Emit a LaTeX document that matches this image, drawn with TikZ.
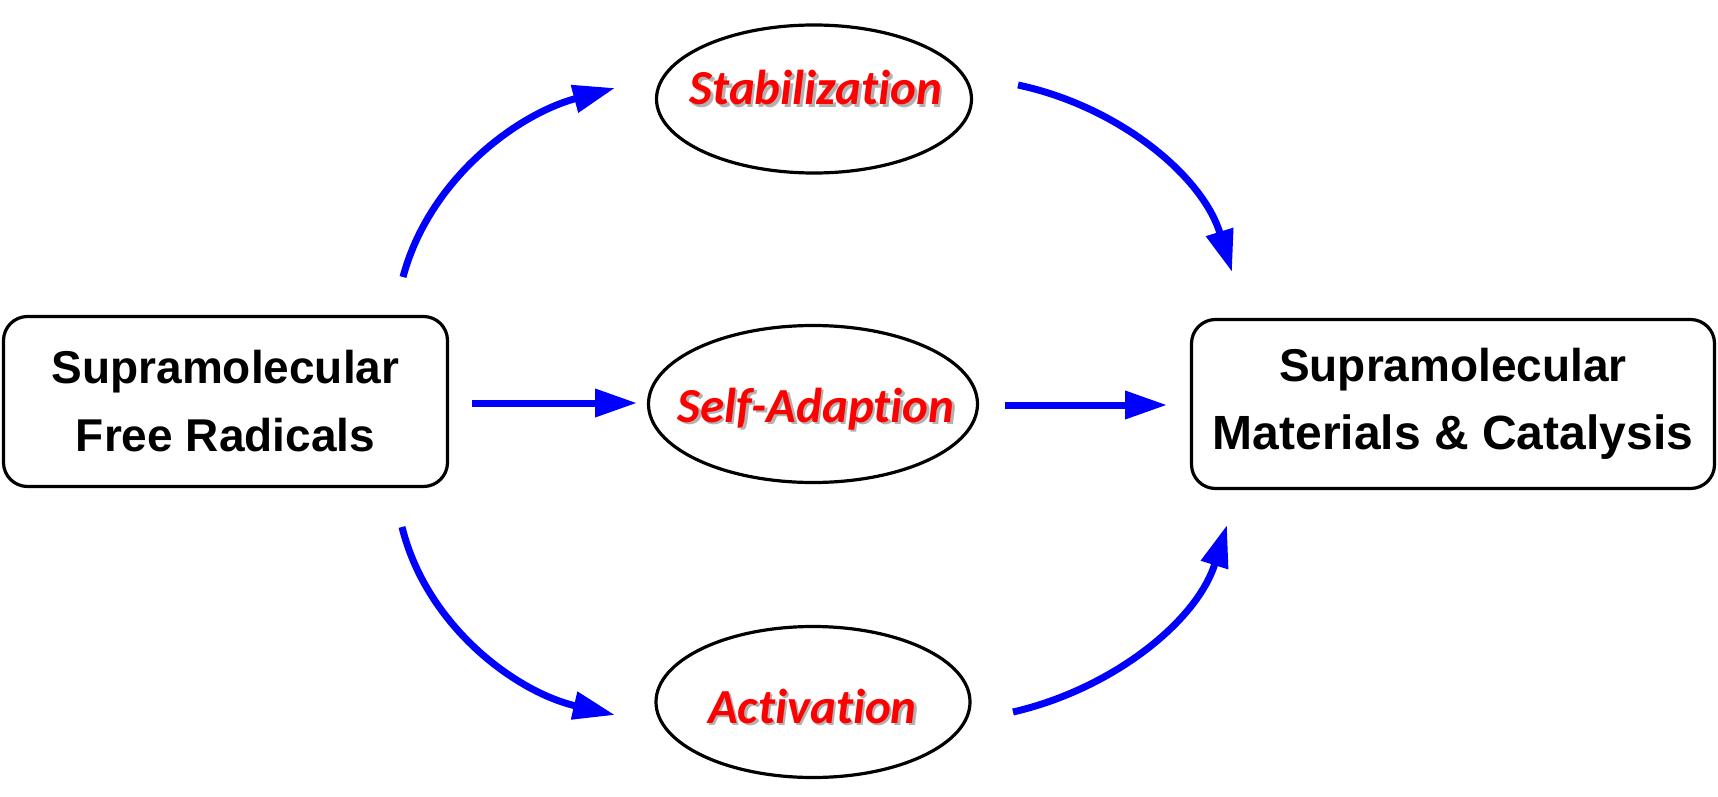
\documentclass[tikz,border=0pt]{standalone}
\usepackage{fontspec}
\setmainfont{Liberation Sans}
\newfontfamily\carlitofont[Ligatures=NoCommon]{Carlito}
\usetikzlibrary{arrows.meta,shapes.geometric}
\newcommand\shtext[1]{\leavevmode\rlap{\kern2.5pt\raisebox{-2.5pt}{\textcolor{black!30}{#1}}}#1}
\begin{document}
\begin{tikzpicture}[x=1pt,y=-1pt,
  box/.style={draw,line width=3.2pt,rounded corners=24pt,align=center,
    font=\bfseries\fontsize{46}{68}\selectfont},
  oval/.style={draw,ellipse,line width=3.2pt,inner sep=0pt},
  redlabel/.style={anchor=base,text=red,inner sep=0pt,
    font=\carlitofont\bfseries\itshape\fontsize{49}{58}\selectfont},
  flow/.style={draw=blue,line width=7pt,-{Triangle[length=42pt,width=27pt]}}
]
\useasboundingbox (0,0) rectangle (1718,797);

% boxes
\node[box,minimum width=444pt,minimum height=170pt] (src) at (225.5,401.5) {Supramolecular\\Free Radicals};
\node[box,minimum width=523pt,minimum height=169pt] (dst) at (1453,404) {Supramolecular\\{\fontsize{48}{68}\selectfont Materials \& Catalysis}};

% ellipses
\node[oval,minimum width=315pt,minimum height=148pt] (stab) at (814,99) {};
\node[oval,minimum width=329pt,minimum height=157pt] (self) at (813,404) {};
\node[oval,minimum width=314pt,minimum height=151pt] (act) at (813,702) {};

% labels
\node[redlabel] (stabt) at (816,105) {\shtext{Stabilization}};
\node[redlabel] (selft) at (816,422) {\shtext{Self-Adaption}};
\node[redlabel] (actt) at (812.5,723) {\shtext{Activation}};

% connector end points
\coordinate (a1s) at (403,277);  \coordinate (a1e) at (615,88);
\coordinate (a2s) at (1018,85);  \coordinate (a2e) at (1232,272);
\coordinate (a3s) at (402,527);  \coordinate (a3e) at (615,715);
\coordinate (a4s) at (1013,712); \coordinate (a4e) at (1227,525);
\coordinate (m1s) at (472,403);  \coordinate (m1e) at (637,403);
\coordinate (m2s) at (1005,405); \coordinate (m2e) at (1167,405);

\draw[flow] (a1s) .. controls +(26.3,-98) and +(-98,26.3) .. (a1e);
\draw[flow] (a2s) .. controls +(99.6,21.2) and +(-30.1,-97.2) .. (a2e);
\draw[flow] (a3s) .. controls +(24.5,99) and +(-99.3,-23) .. (a3e);
\draw[flow] (a4s) .. controls +(98.9,-22.8) and +(-30.3,96.8) .. (a4e);
\draw[flow] (m1s) -- (m1e);
\draw[flow] (m2s) -- (m2e);
\end{tikzpicture}
\end{document}
